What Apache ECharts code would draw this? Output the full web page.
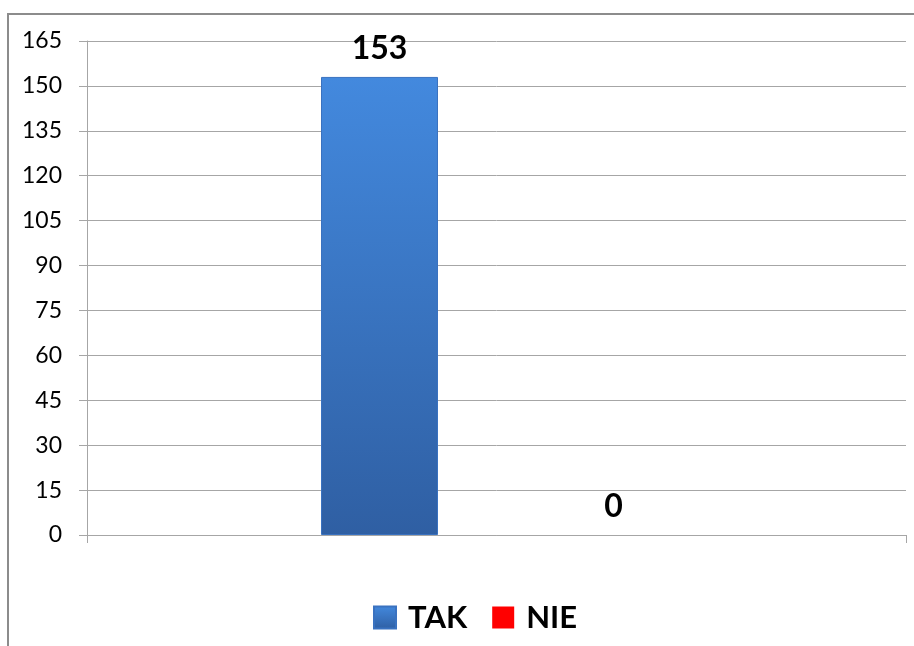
<!DOCTYPE html>
<html>
<head>
<meta charset="utf-8">
<script src="https://cdn.jsdelivr.net/npm/echarts@6/dist/echarts.min.js"></script>
<style>
  html, body { margin: 0; padding: 0; background: #fff; }
  #chart { width: 914px; height: 646px; }
</style>
</head>
<body>
<div id="chart"></div>
<script>
// dane
var categories = [''];
var seriesNames = ['TAK', 'NIE'];
var takValues = [153];
var nieValues = [0];
var yTicks = { min: 0, max: 165, interval: 15 };

var chart = echarts.init(document.getElementById('chart'));

var labelStyle = {
  show: true,
  position: 'top',
  distance: 12,
  color: '#000',
  fontFamily: 'Lato',
  fontWeight: 'bold',
  fontSize: 32
};

chart.setOption({
  backgroundColor: '#fff',
  animation: false,
  // ramka wykresu (lewa i górna krawędź)
  graphic: [{
    type: 'polyline',
    shape: { points: [[8, 646], [8, 14], [914, 14]] },
    style: { stroke: '#8c8c8c', lineWidth: 2, fill: null }
  }],
  grid: { left: 87, right: 8, top: 41, bottom: 111 },
  legend: {
    data: seriesNames,
    left: 368,
    top: 597,
    icon: 'rect',
    itemWidth: 22,
    itemHeight: 22,
    itemGap: 25,
    textStyle: {
      color: '#000',
      fontFamily: 'Lato',
      fontWeight: 'bold',
      fontSize: 31,
      padding: [0, 0, 0, 7]
    }
  },
  xAxis: {
    type: 'category',
    data: categories,
    boundaryGap: true,
    axisLine: { lineStyle: { color: '#a6a6a6', width: 1 } },
    axisTick: { show: true, length: 8, lineStyle: { color: '#a6a6a6' } },
    axisLabel: { show: false }
  },
  yAxis: {
    type: 'value',
    min: yTicks.min,
    max: yTicks.max,
    interval: yTicks.interval,
    axisLine: { show: true, lineStyle: { color: '#a6a6a6', width: 1 } },
    axisTick: { show: true, length: 8, lineStyle: { color: '#a6a6a6' } },
    axisLabel: {
      color: '#000',
      fontFamily: 'Lato',
      fontSize: 23,
      margin: 25
    },
    splitLine: { lineStyle: { color: '#a6a6a6', width: 1 } }
  },
  series: [
    {
      name: 'TAK',
      type: 'bar',
      data: takValues,
      barWidth: 117,
      barGap: '100%',
      itemStyle: {
        color: new echarts.graphic.LinearGradient(0, 0, 0, 1, [
          { offset: 0, color: '#4389de' },
          { offset: 1, color: '#2f5fa3' }
        ]),
        borderColor: '#3a72c0',
        borderWidth: 1
      },
      label: labelStyle
    },
    {
      name: 'NIE',
      type: 'bar',
      data: nieValues,
      barWidth: 117,
      itemStyle: { color: '#ff0000' },
      label: labelStyle
    }
  ]
});
</script>
</body>
</html>
